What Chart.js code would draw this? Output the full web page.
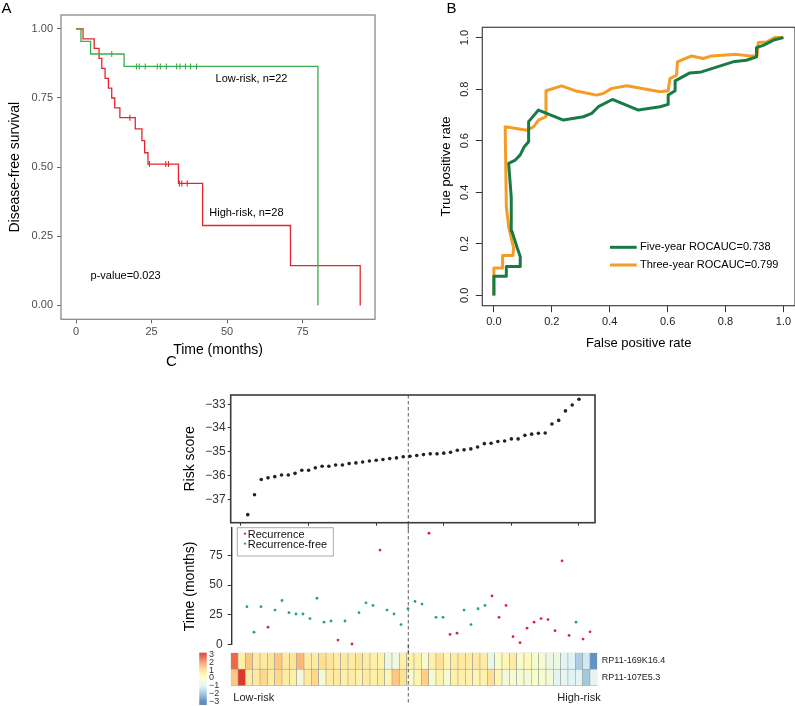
<!DOCTYPE html>
<html>
<head>
<meta charset="utf-8">
<title>Risk model figure</title>
<script src="https://cdn.jsdelivr.net/npm/chart.js@4.4.1/dist/chart.umd.min.js"></script>
<style>
html,body{margin:0;padding:0;background:#ffffff;}
body{position:relative;width:795px;height:706px;overflow:hidden;}
canvas{position:absolute;}
</style>
</head>
<body>
<canvas id="kmChart" width="400" height="372" style="left:0px;top:0px;width:400px;height:372px"></canvas>
<canvas id="rocChart" width="395" height="362" style="left:400px;top:0px;width:395px;height:362px"></canvas>
<canvas id="riskChart" width="430" height="190" style="left:170px;top:340px;width:430px;height:190px"></canvas>
<canvas id="timeChart" width="430" height="130" style="left:170px;top:524px;width:430px;height:130px"></canvas>
<canvas id="heatChart" width="625" height="61" style="left:170px;top:645px;width:625px;height:61px"></canvas>
<script>
// ---------------- DATA ----------------
// Panel A: Kaplan-Meier step curves (time in months, survival probability)
const kmLowTime  = [0, 1.6, 4.8, 15.9, 80.1];
const kmLowSurv  = [1, 0.955, 0.909, 0.864, 0];
const kmLowCensor = [11.8, 20.0, 20.9, 22.9, 26.9, 27.9, 29.9, 33.3, 34.4, 36.2, 37.9, 39.9];
const kmHighTime = [0, 2.3, 6.0, 7.6, 8.5, 9.6, 10.7, 11.8, 12.8, 14.5, 19.6, 21.8, 22.7, 23.8, 33.9, 41.9, 71.0, 94.1];
const kmHighSurv = [1, 0.964, 0.929, 0.893, 0.857, 0.821, 0.786, 0.750, 0.714, 0.679, 0.638, 0.596, 0.552, 0.511, 0.441, 0.289, 0.144, 0];
const kmHighCensor = [17.8, 24.3, 29.7, 30.6, 34.2, 35.0, 36.8];
const kmTimeTicks = [0, 25, 50, 75];
const kmSurvTicks = [0, 0.25, 0.5, 0.75, 1];

// Panel B: ROC curves
const fiveYearFPR = [0,0,0.043,0.043,0.091,0.091,0.079,0.062,0.060,0.051,0.074,0.091,0.105,0.12,0.12,0.154,0.240,0.309,0.338,0.361,0.409,0.499,0.574,0.602,0.602,0.626,0.626,0.677,0.717,0.826,0.872,0.907,0.907,0.930,0.970,1.0];
const fiveYearTPR = [0,0.074,0.074,0.112,0.112,0.151,0.190,0.25,0.38,0.512,0.525,0.545,0.577,0.596,0.674,0.719,0.680,0.693,0.706,0.732,0.760,0.719,0.732,0.741,0.777,0.794,0.832,0.863,0.867,0.906,0.912,0.925,0.961,0.970,0.992,1.0];
const threeYearFPR = [0,0,0.030,0.030,0.066,0.068,0.051,0.043,0.039,0.114,0.137,0.154,0.180,0.180,0.234,0.280,0.355,0.378,0.407,0.459,0.574,0.602,0.608,0.631,0.634,0.683,0.723,0.752,0.838,0.884,0.909,0.913,0.941,0.970,1.0];
const threeYearTPR = [0,0.106,0.106,0.155,0.155,0.184,0.267,0.345,0.654,0.641,0.654,0.680,0.693,0.794,0.813,0.794,0.777,0.783,0.803,0.813,0.790,0.794,0.841,0.854,0.906,0.929,0.919,0.929,0.935,0.929,0.929,0.981,0.983,1.0,1.0];
const rocTicks = [0, 0.2, 0.4, 0.6, 0.8, 1.0];
const rocLabels = ['Five-year ROCAUC=0.738', 'Three-year ROCAUC=0.799'];

// Panel C: patients ranked by risk score
const riskScore = [-37.65,-36.81,-36.17,-36.10,-36.05,-35.98,-35.98,-35.91,-35.78,-35.78,
  -35.68,-35.61,-35.61,-35.56,-35.56,-35.50,-35.47,-35.43,-35.39,-35.36,
  -35.33,-35.29,-35.26,-35.21,-35.19,-35.16,-35.12,-35.09,-35.09,-35.06,
  -35.02,-34.94,-34.92,-34.88,-34.80,-34.66,-34.64,-34.57,-34.55,-34.46,
  -34.46,-34.31,-34.26,-34.22,-34.21,-33.83,-33.68,-33.28,-33.03,-32.79];
const riskTicks = [-37, -36, -35, -34, -33];
const rankTicks = [0, 10, 20, 30, 40, 50];
const riskCutoffRank = 24.75;
const followUpMonths = [31.9,10.5,31.9,14.7,29.1,37.1,26.9,25.8,25.8,21.9,
  39.0,18.9,19.9,3.9,19.9,0.6,26.9,35.2,33.0,79.5,
  29.1,25.8,16.9,30.2,36.3,34.1,93.6,23.0,23.0,8.6,
  9.7,29.1,16.9,30.2,33.0,41.0,23.0,33.0,6.7,1.7,
  13.9,18.9,21.9,21.1,11.7,70.4,7.8,18.9,4.7,10.8];
const recurrence = [0,0,0,1,0,0,0,0,0,0, 0,0,0,1,0,1,0,0,0,1, 0,0,0,0,0,0,1,0,0,1,
  1,0,0,0,0,1,1,1,1,1, 1,1,1,1,1,1,1,0,1,1];
const timeTicks = [0, 25, 50, 75];
const geneNames = ['RP11-169K16.4', 'RP11-107E5.3'];
const exprGene1 = [2.4,0.5,1.3,0.7,0.7,0.8,1.3,0.7,0.8,1.5, 0.6,0.6,1.0,0.8,0.6,0.7,0.6,0.8,0.6,0.5,
  0.4,-0.6,-0.5,0.5,0.4,0.5,-0.3,0.5,0.9,0.3, 0.6,0.7,0.6,0.7,0.6,-0.7,-0.2,0.3,0.6,-0.2,
  0.2,-0.3,-0.3,-0.6,-0.6,-0.9,-1.0,-1.7,-1.2,-2.6];
const exprGene2 = [1.3,2.9,0.6,0.7,1.1,0.6,1.1,0.6,0.5,-0.5, 0.7,1.1,-0.4,0.6,0.7,0.5,0.6,0.4,0.6,0.5,
  0.6,0.3,1.3,0.9,-0.3,0.3,1.2,-0.3,0.4,-0.3, 0.5,0.5,0.4,0.3,0.4,1.0,0.3,-0.5,-0.3,-0.3,
  -0.4,-0.2,-0.3,-0.4,-0.9,-0.8,-1.0,-0.9,-1.8,-0.8];
const colorbarTicks = [3, 2, 1, 0, -1, -2, -3];

// ---------------- STYLE / HELPERS ----------------
const FONT = '"Liberation Sans", Arial, Helvetica, sans-serif';
Chart.defaults.font.family = FONT;
Chart.defaults.color = '#4d4d4d';
const KM_RED = '#E3262E', KM_GREEN = '#38AE4C';
const ROC_GREEN = '#187A45', ROC_ORANGE = '#F49C26';
const PT_RED = '#D8254F', PT_GREEN = '#22A66E';
const patientRank = riskScore.map((_, i) => i + 1);

function fixAxis(size, horizontal) {
  return function (s) {
    if (horizontal) s.height = size; else s.width = size;
    s.paddingTop = 0; s.paddingBottom = 0; s.paddingLeft = 0; s.paddingRight = 0;
  };
}
function setTicks(values) { return function (s) { s.ticks = values.map(v => ({ value: v })); }; }
function minusFmt(v) { return v < 0 ? '\u2212' + Math.abs(v) : String(v); }
function framePlugin(color, width) {
  return { id: 'frame', afterDatasetsDraw(chart) {
    const a = chart.chartArea, c = chart.ctx;
    c.save(); c.strokeStyle = color; c.lineWidth = width;
    c.strokeRect(a.left, a.top, a.right - a.left, a.bottom - a.top); c.restore();
  } };
}
function survAt(times, surv, t) { let s = surv[0]; times.forEach((tt, i) => { if (tt <= t) s = surv[i]; }); return s; }
const baseOpts = { responsive: false, animation: false, devicePixelRatio: 1, events: [] };

// ---------------- PANEL A ----------------
new Chart(document.getElementById('kmChart'), {
  type: 'scatter',
  data: { datasets: [
    { label: 'Low-risk, n=22', data: kmLowTime.map((t, i) => ({ x: t, y: kmLowSurv[i] })), showLine: true, stepped: 'before',
      borderColor: KM_GREEN, borderWidth: 1.3, pointRadius: 0 },
    { label: 'High-risk, n=28', data: kmHighTime.map((t, i) => ({ x: t, y: kmHighSurv[i] })), showLine: true, stepped: 'before',
      borderColor: KM_RED, borderWidth: 1.3, pointRadius: 0 },
    { label: 'Low-risk censored', data: kmLowCensor.map(t => ({ x: t, y: survAt(kmLowTime, kmLowSurv, t) })),
      pointStyle: 'line', pointRotation: 90, pointRadius: 3, pointBorderColor: KM_GREEN, pointBorderWidth: 1.1, borderColor: KM_GREEN },
    { label: 'High-risk censored', data: kmHighCensor.map(t => ({ x: t, y: survAt(kmHighTime, kmHighSurv, t) })),
      pointStyle: 'line', pointRotation: 90, pointRadius: 3, pointBorderColor: KM_RED, pointBorderWidth: 1.1, borderColor: KM_RED }
  ] },
  options: Object.assign({}, baseOpts, {
    layout: { padding: { left: 0, top: 15, right: 25, bottom: 0 } },
    plugins: { legend: { display: false }, tooltip: { enabled: false } },
    scales: {
      x: { type: 'linear', min: -5, max: 99, afterBuildTicks: setTicks(kmTimeTicks), afterFit: fixAxis(52.7, true),
        grid: { drawOnChartArea: false, drawTicks: true, tickLength: 4, color: '#666' }, border: { display: false },
        ticks: { font: { size: 11 }, color: '#4d4d4d', padding: 2, maxRotation: 0 },
        title: { display: true, text: 'Time (months)', font: { size: 14 }, color: '#000', padding: { top: 0, bottom: 13.6 } } },
      y: { type: 'linear', min: -0.05, max: 1.05, afterBuildTicks: setTicks(kmSurvTicks), afterFit: fixAxis(61, false),
        grid: { drawOnChartArea: false, drawTicks: true, tickLength: 4, color: '#666' }, border: { display: false },
        ticks: { font: { size: 11 }, color: '#4d4d4d', padding: 4, callback: v => v.toFixed(2) },
        title: { display: true, text: 'Disease-free survival', font: { size: 14 }, color: '#000', padding: { top: 6.6, bottom: 0 } } }
    }
  }),
  plugins: [framePlugin('#8a8a8a', 1.3), { id: 'kmText', afterDraw(chart) {
    const c = chart.ctx, x = chart.scales.x, y = chart.scales.y;
    c.save(); c.fillStyle = '#000'; c.font = '11px ' + FONT; c.textBaseline = 'middle'; c.textAlign = 'left';
    c.fillText('Low-risk, n=22', x.getPixelForValue(46.2), y.getPixelForValue(0.818));
    c.fillText('High-risk, n=28', x.getPixelForValue(44.1), y.getPixelForValue(0.335));
    c.fillText('p-value=0.023', x.getPixelForValue(4.8), y.getPixelForValue(0.105));
    c.font = '15px ' + FONT; c.fillText('A', 1.5, 9);
    c.fillText('C', 166, 362);
    c.restore();
  } }]
});

// ---------------- PANEL B ----------------
new Chart(document.getElementById('rocChart'), {
  type: 'scatter',
  data: { datasets: [
    { label: rocLabels[0], data: fiveYearFPR.map((f, i) => ({ x: f, y: fiveYearTPR[i] })), showLine: true,
      borderColor: ROC_GREEN, borderWidth: 3, pointRadius: 0, borderJoinStyle: 'round' },
    { label: rocLabels[1], data: threeYearFPR.map((f, i) => ({ x: f, y: threeYearTPR[i] })), showLine: true,
      borderColor: ROC_ORANGE, borderWidth: 3, pointRadius: 0, borderJoinStyle: 'round' }
  ] },
  options: Object.assign({}, baseOpts, {
    layout: { padding: { left: 0, top: 27.3, right: 0, bottom: 0 } },
    plugins: { legend: { display: false }, tooltip: { enabled: false } },
    scales: {
      x: { type: 'linear', min: -0.04, max: 1.04, afterBuildTicks: setTicks(rocTicks), afterFit: fixAxis(56.3, true),
        grid: { drawOnChartArea: false, drawTicks: true, tickLength: 6.5, color: '#333' }, border: { display: false },
        ticks: { font: { size: 11 }, color: '#222', padding: 2.9, maxRotation: 0, callback: v => v.toFixed(1) },
        title: { display: true, text: 'False positive rate', font: { size: 13 }, color: '#000', padding: { top: 0, bottom: 11.2 } } },
      y: { type: 'linear', min: -0.04, max: 1.04, afterBuildTicks: setTicks(rocTicks), afterFit: fixAxis(82.3, false),
        grid: { drawOnChartArea: false, drawTicks: true, tickLength: 6.5, color: '#333' }, border: { display: false },
        ticks: { display: false },
        title: { display: true, text: 'True positive rate', font: { size: 13 }, color: '#000', padding: { top: 38.9, bottom: 0 } } }
    }
  }),
  plugins: [framePlugin('#444', 1.2), { id: 'rocDeco', afterDraw(chart) {
    const c = chart.ctx, y = chart.scales.y;
    c.save(); c.fillStyle = '#222'; c.font = '11px ' + FONT; c.textAlign = 'center'; c.textBaseline = 'middle';
    rocTicks.forEach(v => { c.save(); c.translate(65, y.getPixelForValue(v)); c.rotate(-Math.PI / 2); c.fillText(v.toFixed(1), 0, 0); c.restore(); });
    const items = [[rocLabels[0], ROC_GREEN, 247.3], [rocLabels[1], ROC_ORANGE, 265]];
    c.textAlign = 'left'; c.fillStyle = '#000';
    items.forEach(([t, col, py]) => {
      c.strokeStyle = col; c.lineWidth = 3; c.beginPath(); c.moveTo(210, py); c.lineTo(236.7, py); c.stroke();
      c.fillText(t, 240, py);
    });
    c.font = '15px ' + FONT; c.fillText('B', 46.5, 9);
    c.restore();
  } }]
});

// ---------------- PANEL C: risk score ----------------
function drawCut(c, x, y0, y1) {
  c.save(); c.strokeStyle = '#333'; c.lineWidth = 0.8; c.setLineDash([3.5, 2.5]);
  c.beginPath(); c.moveTo(x, y0); c.lineTo(x, y1); c.stroke(); c.restore();
}
const riskChart = new Chart(document.getElementById('riskChart'), {
  type: 'scatter',
  data: { datasets: [{ label: 'Risk score', data: riskScore.map((v, i) => ({ x: patientRank[i], y: v })),
    pointRadius: 1.8, pointBackgroundColor: '#222', pointBorderWidth: 0 }] },
  options: Object.assign({}, baseOpts, {
    layout: { padding: { left: 0, top: 55, right: 5, bottom: 0 } },
    plugins: { legend: { display: false }, tooltip: { enabled: false } },
    scales: {
      x: { type: 'linear', min: -1.52, max: 52.37, afterBuildTicks: setTicks(rankTicks), afterFit: fixAxis(7.3, true),
        grid: { drawOnChartArea: false, drawTicks: true, tickLength: 3, color: '#333' }, border: { display: false },
        ticks: { display: false } },
      y: { type: 'linear', min: -37.99, max: -32.61, afterBuildTicks: setTicks(riskTicks), afterFit: fixAxis(60.7, false),
        grid: { drawOnChartArea: false, drawTicks: true, tickLength: 3, color: '#333' }, border: { display: false },
        ticks: { font: { size: 12 }, color: '#333', padding: 2, callback: minusFmt },
        title: { display: true, text: 'Risk score', font: { size: 14 }, color: '#000', padding: { top: 11.6, bottom: 0 } } }
    }
  }),
  plugins: [{ id: 'riskDeco', beforeDatasetsDraw(chart) {
    drawCut(chart.ctx, chart.scales.x.getPixelForValue(riskCutoffRank), chart.chartArea.top, chart.height);
  } }, framePlugin('#3a3a3a', 1.6)]
});
const cutX = riskChart.scales.x.getPixelForValue(riskCutoffRank); // all panel-C canvases share left = 170px

// ---------------- PANEL C: follow-up time ----------------
new Chart(document.getElementById('timeChart'), {
  type: 'scatter',
  data: { datasets: [
    { label: 'Recurrence', data: followUpMonths.map((v, i) => ({ x: patientRank[i], y: v })).filter((_, i) => recurrence[i] === 1),
      pointRadius: 1.4, pointBackgroundColor: PT_RED, pointBorderWidth: 0 },
    { label: 'Recurrence-free', data: followUpMonths.map((v, i) => ({ x: patientRank[i], y: v })).filter((_, i) => recurrence[i] === 0),
      pointRadius: 1.4, pointBackgroundColor: PT_GREEN, pointBorderWidth: 0 }
  ] },
  options: Object.assign({}, baseOpts, {
    clip: false,
    layout: { padding: { left: 0, top: 2.7, right: 2.7, bottom: 9.3 } },
    plugins: { legend: { display: false }, tooltip: { enabled: false } },
    scales: {
      x: { type: 'linear', min: -1.18, max: 50.85, display: false },
      y: { type: 'linear', min: 0, max: 98, afterBuildTicks: setTicks(timeTicks), afterFit: fixAxis(61.7, false),
        grid: { drawOnChartArea: false, drawTicks: true, tickLength: 4, color: '#333' },
        border: { display: true, color: '#333', width: 1.4 },
        ticks: { font: { size: 12 }, color: '#333', padding: 5 },
        title: { display: true, text: 'Time (months)', font: { size: 14 }, color: '#000', padding: { top: 11.6, bottom: 0 } } }
    }
  }),
  plugins: [{ id: 'timeDeco', beforeDatasetsDraw(chart) {
    drawCut(chart.ctx, cutX, 0, chart.height);
  }, afterDraw(chart) {
    const c = chart.ctx; c.save();
    c.fillStyle = '#fff'; c.fillRect(67.3, 3.7, 96, 28.3);
    c.strokeStyle = '#aaa'; c.lineWidth = 1; c.strokeRect(67.3, 3.7, 96, 28.3);
    c.font = '11px ' + FONT; c.textBaseline = 'middle'; c.textAlign = 'left';
    [['Recurrence', PT_RED, 10.6], ['Recurrence-free', PT_GREEN, 20.6]].forEach(([t, col, py]) => {
      c.fillStyle = col; c.beginPath(); c.arc(75, py - 1, 1.2, 0, Math.PI * 2); c.fill();
      c.fillStyle = '#111'; c.fillText(t, 77.7, py);
    });
    c.restore();
  } }]
});

// ---------------- PANEL C: heatmap ----------------
const heatStops = [[-3, [69, 117, 180]], [-2, [145, 191, 219]], [-1, [224, 243, 248]], [0, [255, 255, 191]],
  [1, [254, 224, 144]], [2, [252, 141, 89]], [3, [215, 48, 39]]];
function heatColor(v) {
  const lo = heatStops[0][0], hi = heatStops[heatStops.length - 1][0];
  const t = Math.max(lo, Math.min(hi, v));
  for (let i = 0; i < heatStops.length - 1; i++) {
    const [a, ca] = heatStops[i], [b, cb] = heatStops[i + 1];
    if (t >= a && t <= b) {
      const f = (t - a) / (b - a);
      return 'rgb(' + ca.map((x, k) => Math.round(x + (cb[k] - x) * f)).join(',') + ')';
    }
  }
  return 'rgb(255,255,191)';
}
const cellStyle = { borderColor: '#9c9c9c', borderWidth: 0.6, borderSkipped: false, barPercentage: 1, categoryPercentage: 1, stack: 'heat' };
new Chart(document.getElementById('heatChart'), {
  type: 'bar',
  data: { labels: patientRank, datasets: [
    Object.assign({ label: geneNames[1], data: exprGene2.map(() => 1), backgroundColor: exprGene2.map(heatColor) }, cellStyle),
    Object.assign({ label: geneNames[0], data: exprGene1.map(() => 1), backgroundColor: exprGene1.map(heatColor) }, cellStyle)
  ] },
  options: Object.assign({}, baseOpts, {
    layout: { padding: { left: 60.7, top: 7.7, right: 197.7, bottom: 20.3 } },
    plugins: { legend: { display: false }, tooltip: { enabled: false } },
    scales: {
      x: { display: false, stacked: true, offset: true },
      y: { display: false, stacked: true, min: 0, max: 2 }
    }
  }),
  plugins: [{ id: 'heatDeco', afterDraw(chart) {
    const c = chart.ctx, a = chart.chartArea, y = chart.scales.y;
    drawCut(c, cutX, 0, 60);
    c.save();
    c.fillStyle = '#222'; c.font = '9px ' + FONT; c.textBaseline = 'middle'; c.textAlign = 'left';
    c.fillText(geneNames[0], a.right + 4.5, y.getPixelForValue(1.5));
    c.fillText(geneNames[1], a.right + 4.5, y.getPixelForValue(0.5));
    c.font = '11px ' + FONT;
    c.fillText('Low-risk', a.left + 2.6, 53.3);
    c.textAlign = 'right'; c.fillText('High-risk', a.right + 3.4, 53.3);
    const top = 7.7, bot = 60, vTop = 3.2, vBot = -3.42;
    for (let py = top; py < bot; py += 1) {
      const v = vTop + (vBot - vTop) * (py + 0.5 - top) / (bot - top);
      c.fillStyle = heatColor(v); c.fillRect(29.3, py, 7.4, Math.min(1.05, bot - py));
    }
    c.fillStyle = '#333'; c.font = '9px ' + FONT; c.textAlign = 'left';
    colorbarTicks.forEach(v => {
      const py = top + (vTop - v) / (vTop - vBot) * (bot - top);
      c.fillText(minusFmt(v), 39, py);
    });
    c.restore();
  } }]
});
</script>
</body>
</html>
